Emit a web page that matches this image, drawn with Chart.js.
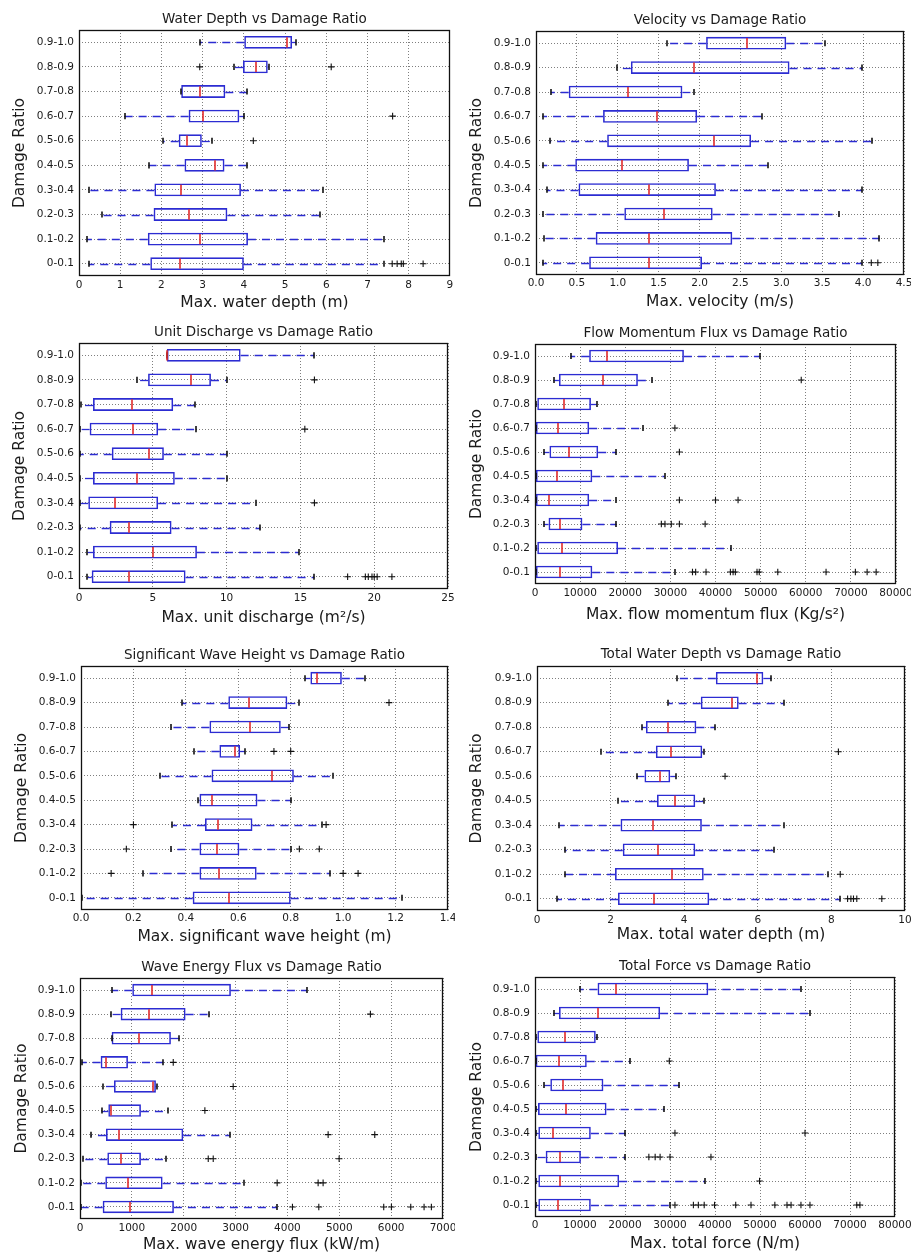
<!DOCTYPE html>
<html>
<head>
<meta charset="utf-8">
<script src="https://cdn.jsdelivr.net/npm/chart.js@4.4.1/dist/chart.umd.min.js"></script>
<style>
  html, body { margin: 0; padding: 0; background: #ffffff; overflow: hidden; }
  #page { position: relative; width: 911px; height: 1256px; }
  #page canvas { position: absolute; }
</style>
</head>
<body>
<div id="page"></div>
<script>
// Damage-ratio classes shared by every panel (bottom to top)
const categories = ['0-0.1', '0.1-0.2', '0.2-0.3', '0.3-0.4', '0.4-0.5',
                    '0.5-0.6', '0.6-0.7', '0.7-0.8', '0.8-0.9', '0.9-1.0'];

// Max. water depth (m)
const depthTicks = ['0', '1', '2', '3', '4', '5', '6', '7', '8', '9'];
const depthLo  = [0.24, 0.19, 0.57, 0.24, 1.70, 2.04, 1.11, 2.48, 3.75, 2.93];
const depthQ1  = [1.73, 1.67, 1.81, 1.83, 2.56, 2.42, 2.66, 2.48, 3.98, 4.01];
const depthMed = [2.46, 2.94, 2.67, 2.48, 3.29, 2.63, 3.01, 2.93, 4.30, 5.05];
const depthQ3  = [4.00, 4.10, 3.60, 3.93, 3.53, 2.98, 3.89, 3.55, 4.58, 5.17];
const depthHi  = [7.39, 7.39, 5.86, 5.91, 4.08, 3.22, 4.01, 4.07, 4.60, 5.27];
const depthOut = [[7.60, 7.72, 7.82, 7.87, 8.35], [], [], [], [], [4.23], [7.61], [], [2.93, 6.12], []];

// Max. velocity (m/s)
const velocityTicks = ['0.0', '0.5', '1.0', '1.5', '2.0', '2.5', '3.0', '3.5', '4.0', '4.5'];
const velocityLo  = [0.08, 0.10, 0.09, 0.13, 0.09, 0.17, 0.09, 0.18, 0.99, 1.60];
const velocityQ1  = [0.65, 0.73, 1.08, 0.52, 0.48, 0.87, 0.82, 0.40, 1.16, 2.08];
const velocityMed = [1.38, 1.38, 1.57, 1.38, 1.05, 2.18, 1.48, 1.12, 1.93, 2.58];
const velocityQ3  = [2.03, 2.40, 2.16, 2.20, 1.87, 2.63, 1.97, 1.79, 3.10, 3.06];
const velocityHi  = [3.99, 4.20, 3.71, 3.99, 2.84, 4.11, 2.76, 1.93, 3.99, 3.54];
const velocityOut = [[4.10, 4.18], [], [], [], [], [], [], [], [], []];

// Max. unit discharge (m2/s)
const dischargeTicks = ['0', '5', '10', '15', '20', '25'];
const dischargeLo  = [0.57, 0.57, 0.07, 0.07, 0.07, 0.07, 0.07, 0.11, 3.91, 5.95];
const dischargeQ1  = [0.86, 0.95, 2.08, 0.63, 0.95, 2.22, 0.72, 0.95, 4.68, 5.95];
const dischargeMed = [3.39, 4.98, 3.39, 2.44, 3.91, 4.75, 3.64, 3.60, 7.58, 5.95];
const dischargeQ3  = [7.22, 7.99, 6.27, 5.36, 6.49, 5.75, 5.36, 6.38, 8.94, 10.95];
const dischargeHi  = [15.95, 14.90, 12.29, 12.00, 10.05, 10.00, 7.96, 7.85, 10.00, 15.95];
const dischargeOut = [[18.2, 19.4, 19.6, 19.85, 20.0, 20.2, 21.2], [], [], [15.95], [], [], [15.3], [], [15.95], []];

// Max. flow momentum flux (Kg/s2)
const momentumTicks = ['0', '10000', '20000', '30000', '40000', '50000', '60000', '70000', '80000'];
const momentumLo  = [200, 200, 1900, 200, 200, 1900, 200, 200, 4100, 7900];
const momentumQ1  = [200, 500, 3000, 200, 200, 3200, 200, 500, 5300, 12000];
const momentumMed = [5600, 5900, 5600, 3200, 4800, 7500, 5000, 6400, 15000, 16000];
const momentumQ3  = [12700, 18400, 10500, 12000, 12700, 14000, 12000, 12400, 22800, 33000];
const momentumHi  = [31000, 43500, 18000, 18000, 28700, 18000, 23900, 13700, 26000, 49800];
const momentumOut = [[34900, 35600, 37900, 43300, 43900, 44400, 49200, 49700, 53800, 64500, 71000, 73600, 75600],
                     [], [28000, 28800, 30200, 32000, 37700], [32000, 40000, 45000], [], [32000], [31000], [], [59000], []];

// Max. significant wave height (m)
const waveHeightTicks = ['0.0', '0.2', '0.4', '0.6', '0.8', '1.0', '1.2', '1.4'];
const waveHeightLo  = [0.004, 0.236, 0.343, 0.349, 0.448, 0.302, 0.430, 0.344, 0.385, 0.855];
const waveHeightQ1  = [0.426, 0.452, 0.452, 0.473, 0.452, 0.498, 0.528, 0.490, 0.562, 0.875];
const waveHeightMed = [0.566, 0.528, 0.520, 0.524, 0.499, 0.730, 0.588, 0.645, 0.640, 0.900];
const waveHeightQ3  = [0.800, 0.670, 0.604, 0.654, 0.673, 0.812, 0.607, 0.762, 0.787, 0.995];
const waveHeightHi  = [1.226, 0.949, 0.800, 0.920, 0.800, 0.962, 0.626, 0.795, 0.833, 1.085];
const waveHeightOut = [[], [0.115, 1.0, 1.057], [0.173, 0.833, 0.909], [0.20, 0.935], [], [], [0.736, 0.80], [], [1.175], []];

// Max. total water depth (m)
const totalDepthTicks = ['0', '2', '4', '6', '8', '10'];
const totalDepthLo  = [0.54, 0.75, 0.75, 0.61, 2.19, 2.71, 1.73, 2.85, 3.57, 3.80];
const totalDepthQ1  = [2.20, 2.12, 2.33, 2.27, 3.26, 2.92, 3.23, 2.96, 4.45, 4.86];
const totalDepthMed = [3.17, 3.68, 3.29, 3.14, 3.76, 3.33, 3.65, 3.57, 5.31, 5.97];
const totalDepthQ3  = [4.68, 4.53, 4.30, 4.48, 4.30, 3.62, 4.49, 4.33, 5.48, 6.15];
const totalDepthHi  = [8.24, 7.90, 6.43, 6.72, 4.53, 3.77, 4.53, 4.84, 6.70, 6.36];
const totalDepthOut = [[8.44, 8.53, 8.60, 8.69, 9.37], [8.24], [], [], [], [5.11], [8.19], [], [], []];

// Max. wave energy flux (kW/m)
const energyTicks = ['0', '1000', '2000', '3000', '4000', '5000', '6000', '7000'];
const energyLo  = [20, 19, 51, 212, 417, 437, 32, 610, 591, 610];
const energyQ1  = [437, 488, 527, 501, 546, 655, 398, 610, 784, 1008];
const energyMed = [963, 925, 784, 751, 597, 1413, 501, 1143, 1330, 1394];
const energyQ3  = [1811, 1593, 1175, 1991, 1175, 1464, 925, 1753, 2036, 2910];
const energyHi  = [3802, 3160, 1657, 2890, 1702, 1477, 1606, 1908, 2486, 4380];
const energyOut = [[4097, 4605, 5857, 6005, 6378, 6635, 6776], [3802, 4592, 4688], [2473, 2569, 4997],
                   [4785, 5684], [2408], [2954], [1798], [], [5600], []];

// Max. total force (N/m)
const forceTicks = ['0', '10000', '20000', '30000', '40000', '50000', '60000', '70000', '80000'];
const forceLo  = [220, 220, 220, 220, 220, 2100, 150, 220, 4150, 10000];
const forceQ1  = [740, 740, 2370, 740, 670, 3400, 150, 520, 5330, 13900];
const forceMed = [5040, 5560, 5560, 3900, 6900, 6300, 5300, 6670, 13900, 17900];
const forceQ3  = [12400, 18700, 10200, 12400, 15900, 15200, 11500, 13500, 27800, 38500];
const forceHi  = [30000, 37800, 20100, 20100, 28700, 32100, 21100, 13850, 61000, 59100];
const forceOut = [[31100, 35200, 36300, 37600, 39900, 44600, 48000, 53300, 56000, 56900, 59100, 61100, 71500, 72200],
                  [49900], [25300, 26700, 27800, 30000, 39100], [31100, 60000], [], [], [29850], [], [], []];

// Panel contents
const panels = [
  { title: 'Water Depth vs Damage Ratio', xTitle: 'Max. water depth (m)', ticks: depthTicks,
    lo: depthLo, q1: depthQ1, med: depthMed, q3: depthQ3, hi: depthHi, out: depthOut },
  { title: 'Velocity vs Damage Ratio', xTitle: 'Max. velocity (m/s)', ticks: velocityTicks,
    lo: velocityLo, q1: velocityQ1, med: velocityMed, q3: velocityQ3, hi: velocityHi, out: velocityOut },
  { title: 'Unit Discharge vs Damage Ratio', xTitle: 'Max. unit discharge (m\u00b2/s)', ticks: dischargeTicks,
    lo: dischargeLo, q1: dischargeQ1, med: dischargeMed, q3: dischargeQ3, hi: dischargeHi, out: dischargeOut },
  { title: 'Flow Momentum Flux vs Damage Ratio', xTitle: 'Max. flow momentum flux (Kg/s\u00b2)', ticks: momentumTicks,
    lo: momentumLo, q1: momentumQ1, med: momentumMed, q3: momentumQ3, hi: momentumHi, out: momentumOut },
  { title: 'Significant Wave Height vs Damage Ratio', xTitle: 'Max. significant wave height (m)', ticks: waveHeightTicks,
    lo: waveHeightLo, q1: waveHeightQ1, med: waveHeightMed, q3: waveHeightQ3, hi: waveHeightHi, out: waveHeightOut },
  { title: 'Total Water Depth vs Damage Ratio', xTitle: 'Max. total water depth (m)', ticks: totalDepthTicks,
    lo: totalDepthLo, q1: totalDepthQ1, med: totalDepthMed, q3: totalDepthQ3, hi: totalDepthHi, out: totalDepthOut },
  { title: 'Wave Energy Flux vs Damage Ratio', xTitle: 'Max. wave energy flux (kW/m)', ticks: energyTicks,
    lo: energyLo, q1: energyQ1, med: energyMed, q3: energyQ3, hi: energyHi, out: energyOut },
  { title: 'Total Force vs Damage Ratio', xTitle: 'Max. total force (N/m)', ticks: forceTicks,
    lo: forceLo, q1: forceQ1, med: forceMed, q3: forceQ3, hi: forceHi, out: forceOut }
];

// Page geometry of each panel: canvas box, plot box and text anchor lines
const frames = [
  { cx: 0,   cy: 0,   cw: 455, ch: 318, L: 79,  R: 451, T: 30,  B: 276,  titleY: 19,  yLabX: 20,  xLabY: 303,  tickY: 285 },
  { cx: 455, cy: 0,   cw: 456, ch: 318, L: 536, R: 904, T: 31,  B: 275,  titleY: 20,  yLabX: 477, xLabY: 302,  tickY: 283 },
  { cx: 0,   cy: 318, cw: 455, ch: 324, L: 79,  R: 448, T: 343, B: 589,  titleY: 332, yLabX: 20,  xLabY: 618,  tickY: 598 },
  { cx: 455, cy: 318, cw: 456, ch: 324, L: 535, R: 896, T: 344, B: 584,  titleY: 333, yLabX: 477, xLabY: 615,  tickY: 593 },
  { cx: 0,   cy: 642, cw: 455, ch: 311, L: 81,  R: 448, T: 666, B: 910,  titleY: 655, yLabX: 22,  xLabY: 937,  tickY: 918 },
  { cx: 455, cy: 642, cw: 456, ch: 311, L: 537, R: 905, T: 666, B: 911,  titleY: 654, yLabX: 477, xLabY: 935,  tickY: 920 },
  { cx: 0,   cy: 953, cw: 455, ch: 303, L: 80,  R: 443, T: 978, B: 1219, titleY: 967, yLabX: 22,  xLabY: 1245, tickY: 1228 },
  { cx: 455, cy: 953, cw: 456, ch: 303, L: 535, R: 895, T: 977, B: 1217, titleY: 966, yLabX: 477, xLabY: 1244, tickY: 1225 }
];

const FONT = 'DejaVu Sans';
const TEXT = '#1a1a1a';
const BLUE = '#2c2cd2';
const RED = '#e02a2a';
const TITLE_SIZE = 13.5, LABEL_SIZE = 15.5, TICK_SIZE = 10.5;

// Whiskers, caps, medians and the plot frame, placed through the chart's scales
function boxParts(p) {
  const rowPixel = (y, i) => Math.round(y.getPixelForValue(i)) + 0.5;
  const band = (y) => Math.abs(y.getPixelForValue(1) - y.getPixelForValue(0));
  return {
    id: 'boxParts',
    beforeDatasetsDraw(chart) {
      const { ctx, scales: { x, y } } = chart;
      ctx.save();
      ctx.strokeStyle = BLUE;
      ctx.lineWidth = 1.3;
      ctx.setLineDash([8, 6]);
      p.lo.forEach((lo, i) => {
        const py = rowPixel(y, i);
        ctx.beginPath();
        ctx.moveTo(x.getPixelForValue(p.q1[i]), py);
        ctx.lineTo(x.getPixelForValue(lo), py);
        ctx.stroke();
        ctx.beginPath();
        ctx.moveTo(x.getPixelForValue(p.q3[i]), py);
        ctx.lineTo(x.getPixelForValue(p.hi[i]), py);
        ctx.stroke();
      });
      ctx.restore();
    },
    afterDatasetsDraw(chart) {
      const { ctx, scales: { x, y } } = chart;
      const b = band(y);
      ctx.save();
      ctx.lineWidth = 1.6;
      ctx.strokeStyle = '#111111';
      p.lo.forEach((lo, i) => {
        const cy = y.getPixelForValue(i);
        [lo, p.hi[i]].forEach((v) => {
          const px = Math.round(x.getPixelForValue(v));
          ctx.beginPath();
          ctx.moveTo(px, cy - b * 0.125);
          ctx.lineTo(px, cy + b * 0.125);
          ctx.stroke();
        });
      });
      ctx.strokeStyle = RED;
      p.med.forEach((m, i) => {
        const cy = y.getPixelForValue(i);
        const px = Math.round(x.getPixelForValue(m));
        ctx.beginPath();
        ctx.moveTo(px, cy - b * 0.25 + 1);
        ctx.lineTo(px, cy + b * 0.25 - 1);
        ctx.stroke();
      });
      ctx.restore();
    },
    afterDraw(chart) {
      const { ctx, chartArea: a } = chart;
      ctx.save();
      ctx.strokeStyle = '#111111';
      ctx.lineWidth = 1.3;
      ctx.strokeRect(Math.round(a.left) + 0.5, Math.round(a.top) + 0.5,
                     Math.round(a.right - a.left) - 1, Math.round(a.bottom - a.top) - 1);
      ctx.restore();
    }
  };
}

function drawPanel(p, g) {
  const canvas = document.createElement('canvas');
  canvas.width = g.cw;
  canvas.height = g.ch;
  canvas.style.left = g.cx + 'px';
  canvas.style.top = g.cy + 'px';
  canvas.style.width = g.cw + 'px';
  canvas.style.height = g.ch + 'px';
  document.getElementById('page').appendChild(canvas);

  const titleHalf = TITLE_SIZE * 1.2 / 2;
  const labelHalf = LABEL_SIZE * 1.2 / 2;
  const tickHalf = TICK_SIZE * 1.2 / 2;
  const tickValues = p.ticks.map(Number);

  const outliers = p.out.flatMap((vals, i) => vals.map((v) => ({ x: v, y: categories[i] })));

  new Chart(canvas, {
    type: 'bar',
    data: {
      labels: categories,
      datasets: [
        {
          label: 'box',
          data: p.q1.map((v, i) => [v, p.q3[i]]),
          backgroundColor: 'rgba(0,0,0,0)',
          borderColor: BLUE,
          borderWidth: 1.6,
          borderSkipped: false,
          barPercentage: 0.52,
          categoryPercentage: 1.0
        },
        {
          type: 'scatter',
          label: 'outliers',
          data: outliers,
          pointStyle: 'cross',
          pointRadius: 3.3,
          pointBorderWidth: 1.1,
          borderColor: '#111111',
          backgroundColor: '#111111'
        }
      ]
    },
    options: {
      indexAxis: 'y',
      responsive: false,
      animation: false,
      devicePixelRatio: 1,
      events: [],
      layout: { padding: { top: 0, left: 0, bottom: 0, right: (g.cx + g.cw) - g.R } },
      plugins: {
        legend: { display: false },
        tooltip: { enabled: false },
        title: {
          display: true,
          text: p.title,
          fullSize: false,
          color: TEXT,
          font: { family: FONT, size: TITLE_SIZE, weight: 'normal' },
          padding: { top: g.titleY - g.cy - titleHalf, bottom: g.T - g.titleY - titleHalf }
        }
      },
      scales: {
        x: {
          type: 'linear',
          min: tickValues[0],
          max: tickValues[tickValues.length - 1],
          afterBuildTicks: (scale) => { scale.ticks = tickValues.map((v) => ({ value: v })); },
          afterFit: (scale) => {
            scale.height = (g.cy + g.ch) - g.B;
            scale.paddingLeft = 0;
            scale.paddingRight = 0;
          },
          ticks: {
            autoSkip: false,
            maxRotation: 0,
            minRotation: 0,
            padding: g.tickY - g.B - tickHalf,
            color: TEXT,
            font: { family: FONT, size: TICK_SIZE },
            callback: (value, index) => p.ticks[index]
          },
          grid: { color: 'rgba(0,0,0,0.5)', lineWidth: 1, drawTicks: false },
          border: { display: false, dash: [1, 2] },
          title: {
            display: true,
            text: p.xTitle,
            color: TEXT,
            font: { family: FONT, size: LABEL_SIZE },
            padding: { top: 0, bottom: (g.cy + g.ch) - g.xLabY - labelHalf }
          }
        },
        y: {
          type: 'category',
          reverse: true,
          offset: true,
          afterFit: (scale) => {
            scale.width = g.L - g.cx;
            scale.paddingTop = 0;
            scale.paddingBottom = 0;
          },
          ticks: {
            autoSkip: false,
            padding: 5,
            color: TEXT,
            font: { family: FONT, size: TICK_SIZE }
          },
          grid: { color: 'rgba(0,0,0,0.5)', lineWidth: 1, drawTicks: false, offset: false },
          border: { display: false, dash: [1, 2] },
          title: {
            display: true,
            text: 'Damage Ratio',
            color: TEXT,
            font: { family: FONT, size: LABEL_SIZE },
            padding: { top: (g.yLabX - g.cx) - labelHalf, bottom: 0 }
          }
        }
      }
    },
    plugins: [boxParts(p)]
  });
}

panels.forEach((p, i) => drawPanel(p, frames[i]));
</script>
</body>
</html>
